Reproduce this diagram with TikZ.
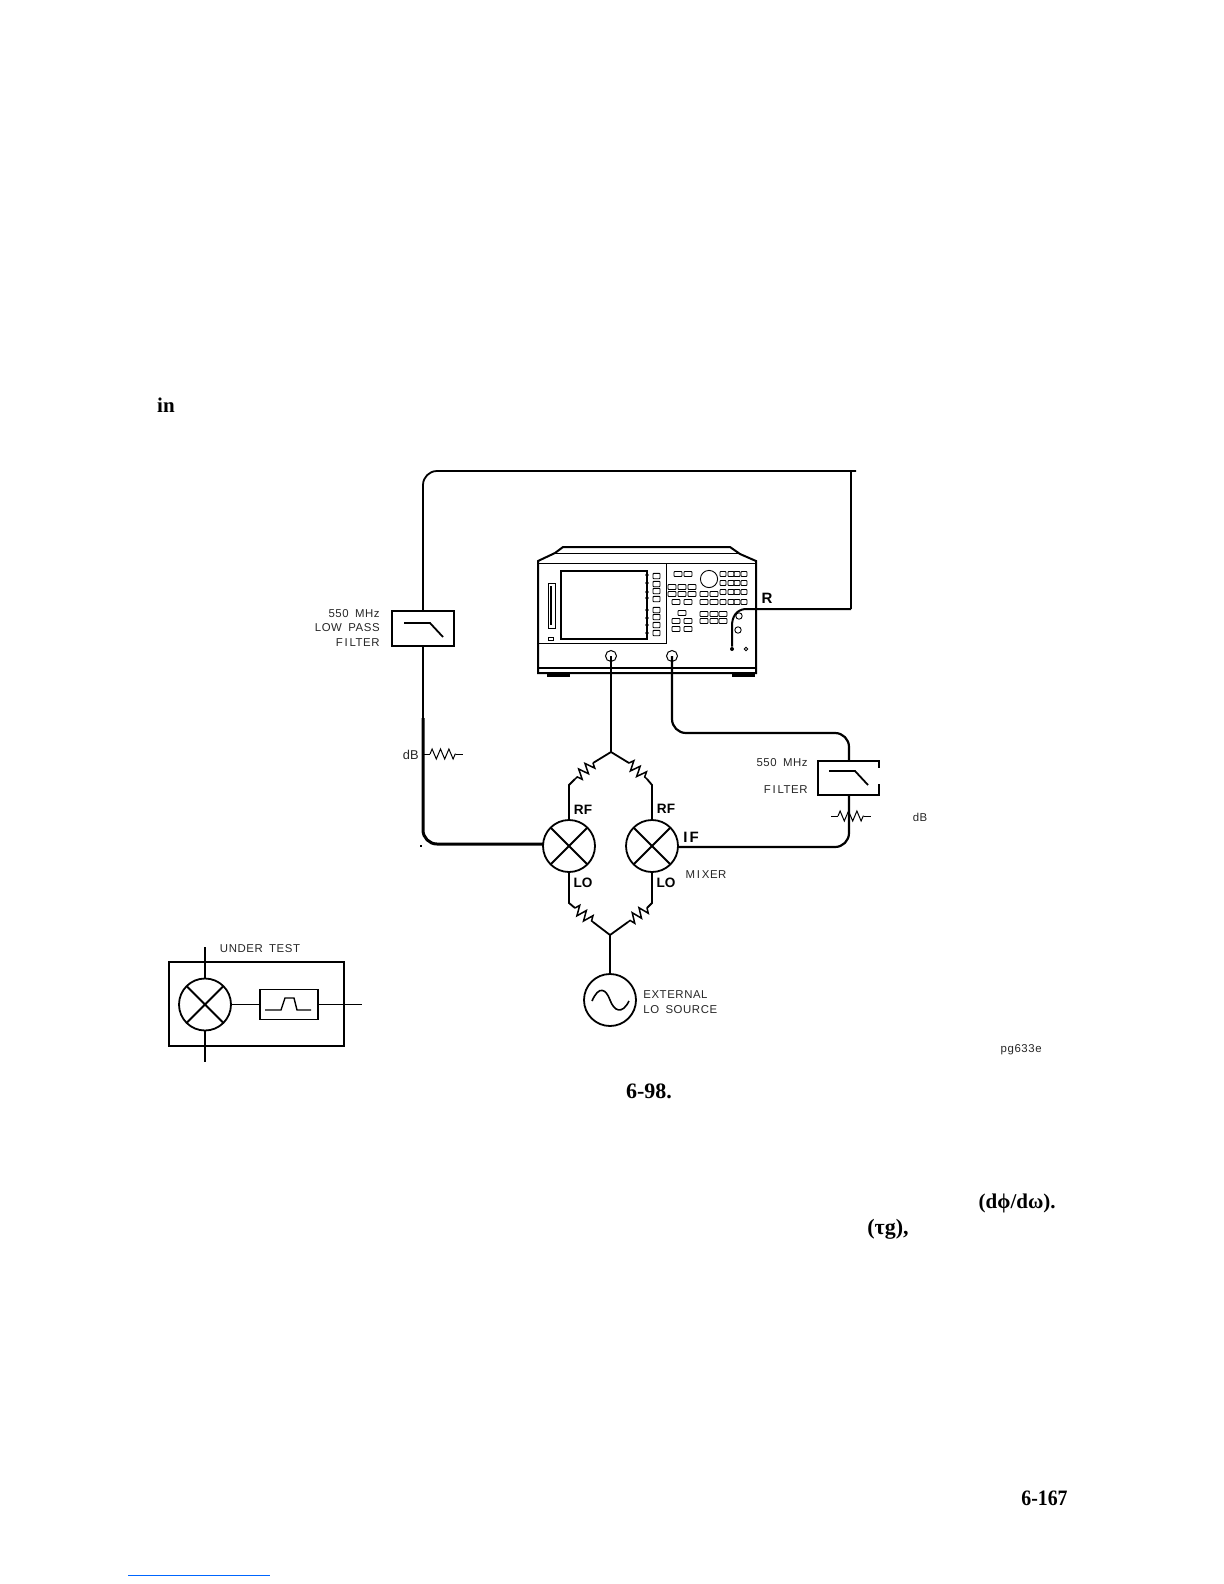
\documentclass[tikz,border=0pt]{standalone}
\usepackage{fontspec}
\newfontfamily\lblfont[LetterSpace=5, WordSpace=1.7]{Liberation Sans}
\newfontfamily\portfont{Liberation Sans}
\newfontfamily\pagefont{Liberation Serif}
\newfontfamily\heavyfont[FakeStretch=0.9]{Liberation Serif}
\newcommand{\wideI}{\kern0.9pt I\kern0.9pt}
\usetikzlibrary{decorations, decorations.pathmorphing}
\tikzset{
    cable/.style={line width=1.1pt, rounded corners=7pt},
    wire/.style={line width=0.9pt},
    thin wire/.style={line width=0.45pt},
    keycap/.style={line width=0.45pt, rounded corners=0.4pt},
    resistor/.style={line width=0.75pt, decorate, decoration={zigzag, segment length=4.2pt, amplitude=2.5pt}},
    mixer/.style={circle, draw, line width=0.9pt, minimum size=26pt, inner sep=0pt, outer sep=0pt},
    filterbox/.style={rectangle, draw, line width=0.9pt, inner sep=0pt, outer sep=0pt},
    cross/.style={line width=0.95pt},
    lbl/.style={font=\lblfont\fontsize{5.7}{7.2}\selectfont, inner sep=0pt, text=black!85},
    port/.style={font=\portfont\bfseries\fontsize{6.8}{8}\selectfont, inner sep=0pt},
    pagetext/.style={font=\pagefont\bfseries\fontsize{10.5}{12}\selectfont, inner sep=0pt},
    pagenum/.style={font=\heavyfont\bfseries\fontsize{11}{12}\selectfont, inner sep=0pt},
}
\begin{document}
\begin{tikzpicture}[x=0.5pt, y=-0.5pt]
    \useasboundingbox (0,0) rectangle (1224,1584);

    % analyzer body
    \draw[line width=1pt] (538,673) -- (538,561) -- (555,553) -- (563,547) -- (730,547) -- (740,554) -- (756,561) -- (756,673) -- cycle;
    \draw[thin wire] (555,553) -- (740,553);
    \draw[thin wire] (538,563) -- (756,563);
    \draw[thin wire] (538,643) -- (666,643) -- (666,563);
    \draw[line width=0.6pt] (538,668) -- (756,668);
    \fill (547,673) rectangle (570,677);
    \fill (732,673) rectangle (755,677);
    \draw[line width=1.3pt] (561,571) rectangle (647,639);
    \foreach \y in {575,583,592,598,610,618,625,633}
        \fill (647,\y) circle (0.9pt);
    \draw[thin wire] (548,583) rectangle (555,628);
    \draw[line width=1.1pt] (551,586) -- (551,625);
    \draw[thin wire] (548,637) rectangle (553,640);

    % keys
    \foreach \y in {576,584,591,599,610,617,625,633}
        \draw[keycap] (653,\y-2.7) rectangle (660,\y+2.7);
    \foreach \x/\y in {678/574, 688/574, 672/587, 682/587, 692/587, 672/594, 682/594, 692/594, 676/602, 688/602, 682/613, 676/621, 688/621, 676/629, 688/629, 704/594, 714/594, 704/602, 714/602, 704/614, 714/614, 723/614, 704/621, 714/621, 723/621}
        \draw[keycap] (\x-4,\y-2.5) rectangle (\x+4,\y+2.5);
    \foreach \x in {723,731,737,744}
        \foreach \y in {574,583,592,602}
            \draw[keycap] (\x-3,\y-2.5) rectangle (\x+3,\y+2.5);
    \draw[thin wire] (709,579) circle (4.3pt);
    \draw[thin wire] (739,616) circle (1.6pt);
    \draw[thin wire] (738,630) circle (1.6pt);
    \draw[thin wire] (746,649) circle (0.9pt);

    % ports
    \node[circle, draw, line width=0.5pt, minimum size=5.5pt, inner sep=0pt] (portb) at (611,656) {};
    \node[circle, draw, line width=0.5pt, minimum size=5.5pt, inner sep=0pt] (portc) at (672,656) {};
    \node[circle, fill, minimum size=2pt, inner sep=0pt] (portr) at (732,649) {};
    \node[port, font=\portfont\bfseries\fontsize{7.5}{8}\selectfont] (labr) at (767,598) {R};

    % mixers and filters
    \node[mixer] (mixa) at (569,846) {};
    \node[mixer] (mixb) at (652,846) {};
    \node[mixer] (mixc) at (205,1004.5) {};
    \node[mixer] (lo) at (610,1000) {};
    \node[filterbox, minimum width=31pt, minimum height=17.5pt] (lpfa) at (423,628.5) {};
    \node[filterbox, minimum width=30.5pt, minimum height=17pt] (lpfb) at (848.5,778) {};
    \node[filterbox, minimum width=29pt, minimum height=15pt] (bpf) at (289,1004.5) {};
    \draw[cross] (mixa.45) -- (mixa.225) (mixa.135) -- (mixa.315);
    \draw[cross] (mixb.45) -- (mixb.225) (mixb.135) -- (mixb.315);
    \draw[cross] (mixc.45) -- (mixc.225) (mixc.135) -- (mixc.315);
    \draw[white, line width=1.2pt] (879,768) -- (879,784);

    % filter curves
    \draw[wire] (404,623) -- (430,623) -- (443,637);
    \draw[wire] (829,771) -- (855,771) -- (868,785);
    \draw[line width=0.7pt] (265,1010) -- (281,1010) -- (285,998) -- (294,998) -- (297,1010) -- (311,1010);
    \draw[line width=0.8pt] (592,1001) .. controls (599,985) and (606,989) .. (610,1000) .. controls (614,1011) and (622,1015) .. (629,1001);

    % test cables
    \coordinate (topl) at (423,471);
    \coordinate (topr) at (856,471);
    \coordinate (rise) at (851,471);
    \coordinate (rturn) at (851,609);
    \coordinate (lowl) at (423,844);
    \coordinate (thick) at (423,718);
    \draw[cable, line width=0.9pt] (lpfa.north) -- (topl) -- (topr);
    \draw[line width=1.3pt] (rise) -- (rturn);
    \draw[line width=1pt] (rturn) -- (745,609) .. controls (736,610) and (732,617) .. (732,626) -- (portr);
    \draw[line width=1pt] (lpfa.south) -- (thick);
    \draw[cable, line width=1.5pt] (thick) -- (lowl) -- (mixa.west |- lowl);
    \fill (420,845) rectangle (422,847);

    \coordinate (bendb) at (672,733);
    \coordinate (bendc) at (849,733);
    \coordinate (bendd) at (849,847);
    \draw[cable] (portc.center) -- (bendb) -- (bendc) -- (lpfb.north -| bendc);
    \draw[cable] (lpfb.south -| bendd) -- (bendd) -- (mixb.east |- bendd);

    % power splitter, RF side
    \coordinate (rftop) at (611,752);
    \coordinate (rfla) at (593,763);
    \coordinate (rflb) at (575,779);
    \coordinate (rflc) at (569,785);
    \coordinate (rfra) at (629,763);
    \coordinate (rfrb) at (647,779);
    \coordinate (rfrc) at (652,785);
    \draw[line width=1.1pt] (portb.center) -- (rftop);
    \draw[wire] (rftop) -- (rfla);
    \draw[resistor] (rfla) -- (rflb);
    \draw[wire] (rflb) -- (rflc) -- (mixa.north);
    \draw[wire] (rftop) -- (rfra);
    \draw[resistor] (rfra) -- (rfrb);
    \draw[wire] (rfrb) -- (rfrc) -- (mixb.north);

    % power splitter, LO side
    \coordinate (lobot) at (610,935);
    \coordinate (lola) at (569,903);
    \coordinate (lolb) at (575,908);
    \coordinate (lolc) at (593,922);
    \coordinate (lora) at (652,903);
    \coordinate (lorb) at (647,908);
    \coordinate (lorc) at (628,922);
    \draw[wire] (mixa.south) -- (lola) -- (lolb);
    \draw[resistor] (lolb) -- (lolc);
    \draw[wire] (lolc) -- (lobot);
    \draw[wire] (mixb.south) -- (lora) -- (lorb);
    \draw[resistor] (lorb) -- (lorc);
    \draw[wire] (lorc) -- (lobot);
    \draw[wire] (lobot) -- (lo.north);

    % attenuators
    \coordinate (atta) at (423,754);
    \coordinate (attb) at (430,754);
    \coordinate (attc) at (456,754);
    \coordinate (attd) at (463,754);
    \draw[thin wire] (atta) -- (attb);
    \draw[resistor, line width=0.5pt] (attb) -- (attc);
    \draw[thin wire] (attc) -- (attd);
    \coordinate (atte) at (831,816);
    \coordinate (attf) at (838,816);
    \coordinate (attg) at (864,816);
    \coordinate (atth) at (871,816);
    \draw[thin wire] (atte) -- (attf);
    \draw[resistor, line width=0.5pt] (attf) -- (attg);
    \draw[thin wire] (attg) -- (atth);

    % device under test
    \coordinate (dutt) at (205,947);
    \coordinate (dutb) at (205,1062);
    \coordinate (duto) at (362,1004.5);
    \draw[line width=0.8pt] (169,962) rectangle (344,1046);
    \draw[wire] (dutt) -- (mixc.north);
    \draw[wire] (mixc.south) -- (dutb);
    \draw[wire] (mixc.east) -- (bpf.west);
    \draw[wire] (bpf.east) -- (duto);

    % labels
    \node[lbl, anchor=east, align=right] (lpfatext) at (380,628) {550 MHz\\LOW PASS\\F\wideI LTER};
    \node[lbl, anchor=east, font=\portfont\fontsize{6.4}{7}\selectfont] (atttext) at (419,755) {dB};
    \node[lbl, anchor=east] (lpfbtexta) at (808,763) {550 MHz};
    \node[lbl, anchor=east] (lpfbtextb) at (808,790) {F\wideI LTER};
    \node[lbl] (attbtext) at (920,817) {dB};
    \node[port] (rfa) at (583,810) {RF};
    \node[port] (rfb) at (666,809) {RF};
    \node[port] (loa) at (583,883) {LO};
    \node[port] (lob) at (666,883) {LO};
    \node[port, font=\portfont\bfseries\fontsize{7.5}{8}\selectfont] (ifb) at (691,837) {I\kern1pt F};
    \node[lbl] (mixtext) at (706,875) {M\wideI XER};
    \node[lbl] (duttext) at (260,949) {UNDER TEST};
    \node[lbl, anchor=west, align=left] (lotext) at (643,1002) {EXTERNAL\\LO SOURCE};
    \node[lbl, anchor=east] (figid) at (1042,1050) {pg633e};

    % page fragments
    \node[pagetext] (pagein) at (166,405) {in};
    \node[pagetext, font=\pagefont\bfseries\fontsize{11}{12}\selectfont] (fignum) at (649,1091) {6-98.};
    \node[pagetext, anchor=east] (dphi) at (1056,1203) {(dϕ/dω).};
    \node[pagetext, anchor=west, font=\pagefont\bfseries\fontsize{11}{12}\selectfont] (taug) at (867,1229) {(τg),};
    \node[pagenum, anchor=east] (pagenum) at (1068,1498) {6-167};
    \draw[line width=0.5pt, blue!60!cyan] (128,1575) -- (270,1575);
\end{tikzpicture}
\end{document}
